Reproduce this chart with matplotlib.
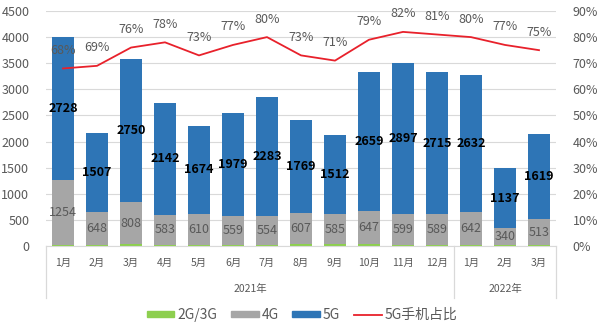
import matplotlib
matplotlib.use("Agg")
import matplotlib.pyplot as plt
import numpy as np
from matplotlib.patches import Patch
from matplotlib.lines import Line2D

plt.rcParams['font.family'] = ['Noto Sans CJK SC', 'DejaVu Sans']

months = ["1月", "2月", "3月", "4月", "5月", "6月", "7月", "8月", "9月",
          "10月", "11月", "12月", "1月", "2月", "3月"]
years = ["2021年", "2022年"]
year_spans = [(0, 11), (12, 14)]

g23 = [15, 10, 30, 15, 10, 15, 15, 30, 30, 30, 15, 25, 10, 10, 10]
g4 = [1254, 648, 808, 583, 610, 559, 554, 607, 585, 647, 599, 589, 642, 340, 513]
g5 = [2728, 1507, 2750, 2142, 1674, 1979, 2283, 1769, 1512, 2659, 2897, 2715, 2632, 1137, 1619]
share = [68, 69, 76, 78, 73, 77, 80, 73, 71, 79, 82, 81, 80, 77, 75]

C_GREEN = "#8DCF4F"
C_GRAY = "#A6A6A6"
C_BLUE = "#2E75B6"
C_RED = "#E8212B"
C_TXT = "#595959"
C_GRID = "#D9D9D9"

fig = plt.figure(figsize=(6.0, 3.29), dpi=100)
ax = fig.add_axes([46 / 600, 1 - 246 / 329, 510 / 600, 235 / 329])
ax2 = ax.twinx()

x = np.arange(len(months))
w = 0.65
g23a = np.array(g23)
g4a = np.array(g4)
g5a = np.array(g5)

ax.bar(x, g23a, w, color=C_GREEN, zorder=2)
ax.bar(x, g4a, w, bottom=g23a, color=C_GRAY, zorder=2)
ax.bar(x, g5a, w, bottom=g23a + g4a, color=C_BLUE, zorder=2)

for i in range(len(x)):
    ax.text(x[i], g23a[i] + g4a[i] / 2, str(g4[i]), ha="center", va="center",
            fontsize=9, color=C_TXT, zorder=4)
    ax.text(x[i], g23a[i] + g4a[i] + g5a[i] / 2, str(g5[i]), ha="center",
            va="center", fontsize=9, fontweight="bold", color="black", zorder=4)

ax.set_xlim(-0.5, len(x) - 0.5)
ax.set_ylim(0, 4500)
ax.set_yticks(np.arange(0, 4501, 500))
ax.yaxis.grid(True, color=C_GRID, lw=0.8, zorder=0)
ax.set_axisbelow(True)
ax.set_xticks([])
ax.tick_params(axis="y", length=0, labelsize=9, labelcolor=C_TXT, pad=12)
for s in ["top", "right", "left"]:
    ax.spines[s].set_visible(False)
ax.spines["bottom"].set_color(C_GRID)

share_frac = np.array(share) / 100
ax2.plot(x, share_frac, color=C_RED, lw=1.3, zorder=5)
for i in range(len(x)):
    ax2.annotate(f"{share[i]}%", (x[i], share_frac[i]), xytext=(0, 13),
                 textcoords="offset points", ha="center", va="center",
                 fontsize=9, color=C_TXT)
ax2.set_ylim(0, 0.9)
ax2.set_yticks(np.arange(0, 0.91, 0.1))
ax2.set_yticklabels([f"{int(round(v * 100))}%" for v in np.arange(0, 0.91, 0.1)])
ax2.tick_params(axis="y", length=0, labelsize=9, labelcolor=C_TXT, pad=12)
for s in ax2.spines.values():
    s.set_visible(False)

# two-level category axis
tr = ax.get_xaxis_transform()
for i, m in enumerate(months):
    ax.text(x[i], -0.072, m, transform=tr, ha="center", va="center",
            fontsize=7.5, color=C_TXT)
for (a, b), y in zip(year_spans, years):
    ax.text((a + b) / 2, -0.183, y, transform=tr, ha="center", va="center",
            fontsize=7.5, color=C_TXT)
for xv in [-0.5, 11.5, 14.5]:
    ax.plot([xv, xv], [0, -0.221], transform=tr, color=C_GRID, lw=0.9,
            clip_on=False)

handles = [Patch(color=C_GREEN), Patch(color=C_GRAY), Patch(color=C_BLUE),
           Line2D([0], [0], color=C_RED, lw=1.3)]
labels = ["2G/3G", "4G", "5G", "5G手机占比"]
leg = fig.legend(handles, labels, loc="center", bbox_to_anchor=(302 / 600, 1 - 315 / 329),
                 ncol=4, frameon=False, fontsize=10, handlelength=2.0,
                 handleheight=0.35, columnspacing=1.0, handletextpad=0.2)
for t in leg.get_texts():
    t.set_color(C_TXT)

fig.savefig("out.png", dpi=100)
